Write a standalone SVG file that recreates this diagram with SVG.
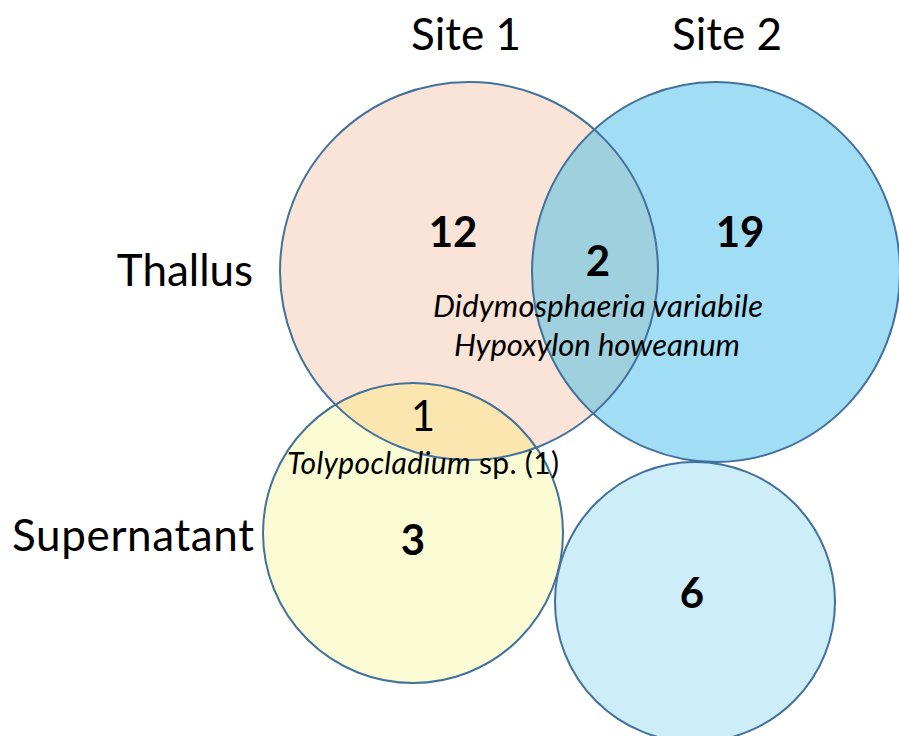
<svg xmlns="http://www.w3.org/2000/svg" width="899" height="736" viewBox="0 0 899 736">
<style>
.lbl{font-family:Lato,"Open Sans","DejaVu Sans",sans-serif;fill:#000}
.hdr{font-size:44px;text-anchor:middle}
.num{font-size:42px;font-weight:bold;text-anchor:middle}
.sp{font-size:31px;font-style:italic;text-anchor:middle}
.edge{fill:none;stroke:#41719C;stroke-width:2}
</style>
<defs>
<clipPath id="c1clip"><circle cx="469" cy="271" r="189"/></clipPath>
</defs>
<rect width="899" height="736" fill="#fff"/>
<g id="thallus-site1"><circle cx="469" cy="271" r="189" fill="#FAE3D7"/></g>
<g id="thallus-site2"><ellipse cx="716" cy="272" rx="184" ry="190" fill="#A1DEF6"/></g>
<g id="supernatant-site1"><circle cx="413" cy="533" r="150" fill="#FCFCD4"/></g>
<g id="supernatant-site2"><circle cx="695" cy="602" r="140" fill="#CDEDF9"/></g>
<g id="overlaps">
<ellipse cx="716" cy="272" rx="184" ry="190" fill="#9ED0DD" clip-path="url(#c1clip)"/>
<circle cx="413" cy="533" r="150" fill="#FCE6B0" clip-path="url(#c1clip)"/>
</g>
<g id="outlines">
<circle class="edge" cx="469" cy="271" r="189"/>
<ellipse class="edge" cx="716" cy="272" rx="184" ry="190"/>
<circle class="edge" cx="413" cy="533" r="150"/>
<circle class="edge" cx="695" cy="602" r="140"/>
</g>
<g id="labels" class="lbl">
<text class="lbl hdr" x="466" y="50">Site 1</text>
<text class="lbl hdr" x="727" y="50">Site 2</text>
<text class="lbl hdr" x="185" y="286">Thallus</text>
<text class="lbl hdr" x="133" y="551" textLength="242">Supernatant</text>
<text class="lbl num" x="453" y="247">12</text>
<text class="lbl num" x="598" y="276">2</text>
<text class="lbl num" x="740" y="247">19</text>
<text class="lbl num" x="413" y="555">3</text>
<text class="lbl num" x="692" y="608">6</text>
<text class="lbl" x="423" y="431" font-size="42" text-anchor="middle">1</text>
<text class="lbl sp" x="598" y="317" textLength="330">Didymosphaeria variabile</text>
<text class="lbl sp" x="597" y="356" textLength="286">Hypoxylon howeanum</text>
<text class="lbl" x="423" y="474" font-size="30" text-anchor="middle" textLength="272"><tspan font-style="italic">Tolypocladium</tspan> sp. (1)</text>
</g>
</svg>
